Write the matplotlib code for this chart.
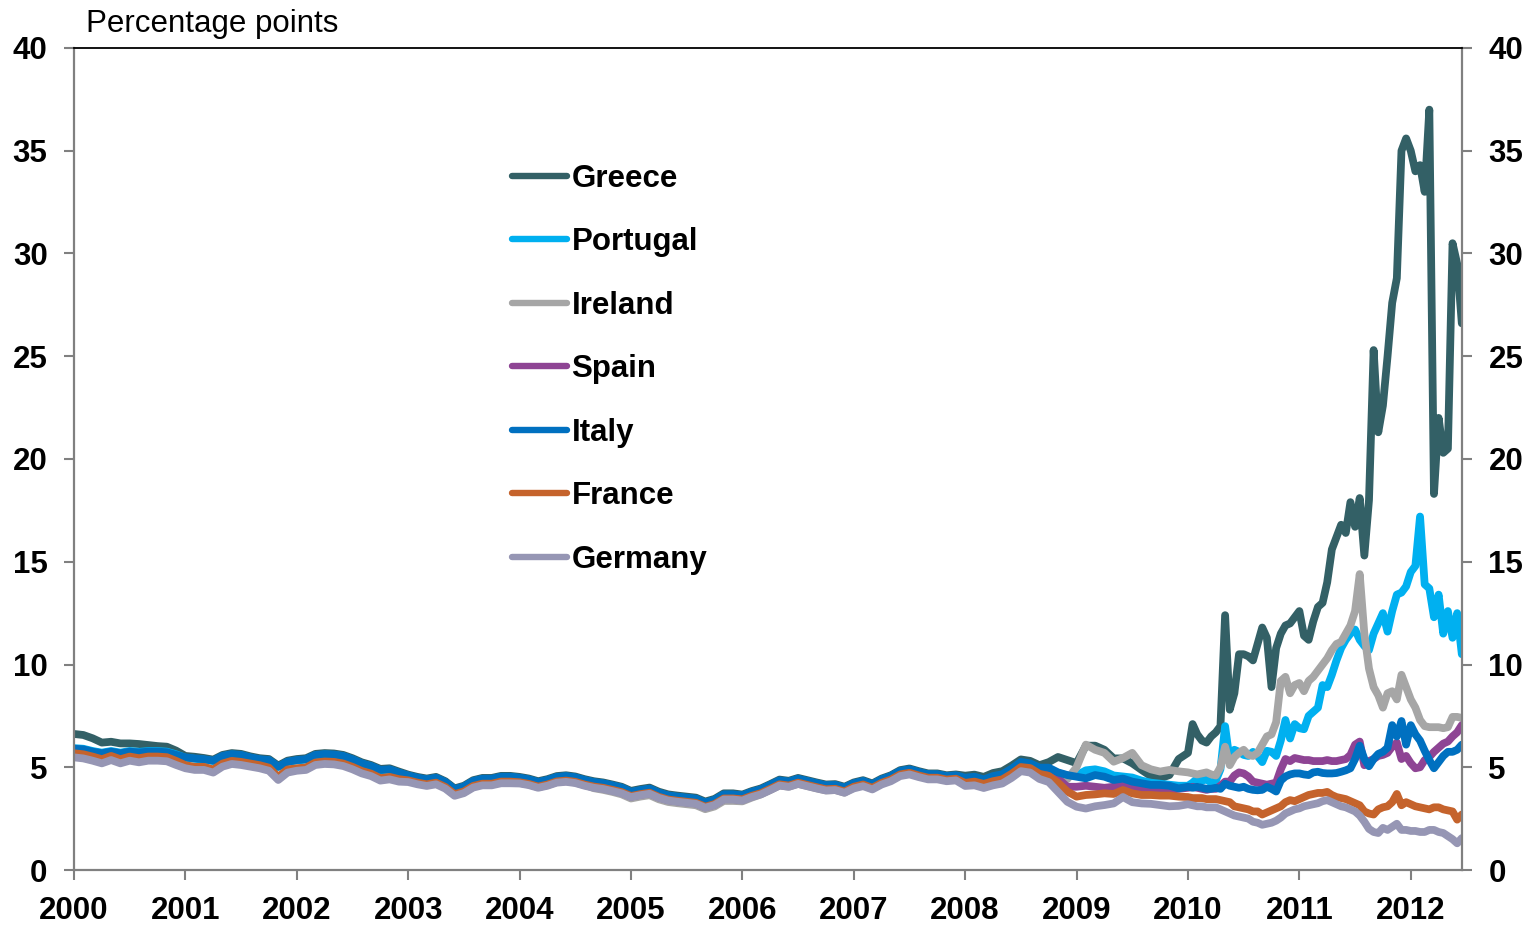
import matplotlib
matplotlib.use('Agg')
import matplotlib.pyplot as plt
import numpy as np

plt.rcParams['font.family'] = ['Liberation Sans', 'DejaVu Sans']
plt.rcParams['font.weight'] = 'bold'

# monthly readings Jan 2000 - Dec 2009, then twice a month Jan 2010 - Jun 2012
months = 2000 + np.arange(120) / 12
halves = 2010 + np.arange(60) / 24
dates = np.concatenate([months, halves])

greece_m = [
    6.62, 6.57, 6.41, 6.20, 6.24, 6.16, 6.16, 6.13, 6.08, 6.03, 6.00, 5.81,
    5.55, 5.51, 5.45, 5.37, 5.60, 5.69, 5.65, 5.53, 5.44, 5.40, 5.08, 5.32,
    5.40, 5.44, 5.65, 5.69, 5.67, 5.60, 5.44, 5.24, 5.11, 4.92, 4.95, 4.79,
    4.64, 4.53, 4.45, 4.53, 4.32, 3.97, 4.10, 4.37, 4.48, 4.48, 4.58, 4.58,
    4.53, 4.45, 4.32, 4.42, 4.57, 4.61, 4.55, 4.42, 4.32, 4.26, 4.16, 4.05,
    3.85, 3.94, 4.01, 3.81, 3.68, 3.62, 3.57, 3.52, 3.33, 3.46, 3.73, 3.73,
    3.67, 3.84, 3.97, 4.18, 4.40, 4.34, 4.48, 4.37, 4.26, 4.16, 4.18, 4.05,
    4.26, 4.37, 4.21, 4.45, 4.61, 4.86, 4.94, 4.81, 4.70, 4.70, 4.61, 4.65,
    4.59, 4.64, 4.53, 4.72, 4.81, 5.08, 5.38, 5.31, 5.10, 5.25, 5.50, 5.35,
    5.20, 6.05, 6.05, 5.85, 5.43, 5.43, 5.19, 4.87, 4.57, 4.46, 4.62, 5.40]
greece_h = [
    5.70, 7.10, 6.60, 6.30, 6.20, 6.50, 6.70, 7.00, 12.40, 7.80, 8.60, 10.50,
    10.50, 10.40, 10.20, 11.00, 11.80, 11.30, 8.90, 10.80, 11.50, 11.90, 12.00, 12.30,
    12.60, 11.40, 11.20, 12.10, 12.80, 13.00, 14.00, 15.60, 16.20, 16.80, 16.40, 17.90,
    16.70, 18.10, 15.30, 18.00, 25.30, 21.30, 22.60, 25.00, 27.60, 28.80, 35.00, 35.60,
    35.00, 34.00, 34.30, 33.00, 37.00, 18.30, 22.00, 20.30, 20.50, 30.50, 29.50, 26.60]

portugal_m = [
    5.93, 5.90, 5.79, 5.71, 5.79, 5.71, 5.79, 5.75, 5.79, 5.79, 5.76, 5.63,
    5.46, 5.41, 5.37, 5.30, 5.53, 5.62, 5.58, 5.46, 5.37, 5.33, 5.01, 5.25,
    5.33, 5.37, 5.58, 5.62, 5.60, 5.53, 5.37, 5.17, 5.04, 4.85, 4.88, 4.72,
    4.58, 4.47, 4.39, 4.47, 4.26, 3.91, 4.04, 4.31, 4.42, 4.42, 4.52, 4.52,
    4.47, 4.39, 4.26, 4.36, 4.51, 4.55, 4.49, 4.36, 4.26, 4.20, 4.10, 3.99,
    3.78, 3.87, 3.94, 3.74, 3.61, 3.55, 3.50, 3.45, 3.26, 3.39, 3.66, 3.66,
    3.61, 3.78, 3.91, 4.12, 4.34, 4.28, 4.42, 4.31, 4.20, 4.10, 4.12, 3.99,
    4.20, 4.31, 4.15, 4.39, 4.55, 4.80, 4.88, 4.75, 4.64, 4.64, 4.55, 4.59,
    4.44, 4.49, 4.36, 4.52, 4.61, 4.88, 5.21, 5.14, 4.93, 4.93, 4.72, 4.60,
    4.60, 4.85, 4.90, 4.80, 4.60, 4.55, 4.50, 4.35, 4.25, 4.20, 4.15, 4.10]
portugal_h = [
    4.10, 4.25, 4.45, 4.35, 4.40, 4.25, 4.35, 4.90, 7.00, 5.30, 5.85, 5.75,
    5.60, 5.55, 5.75, 5.55, 5.25, 5.80, 5.75, 5.55, 6.30, 7.30, 6.40, 7.10,
    6.90, 6.85, 7.50, 7.70, 7.90, 9.00, 8.90, 9.50, 10.20, 10.80, 11.20, 11.50,
    11.70, 11.20, 10.90, 10.70, 11.50, 12.00, 12.50, 11.60, 12.60, 13.40, 13.50, 13.80,
    14.50, 14.80, 17.20, 13.90, 13.70, 12.30, 13.40, 11.50, 12.60, 11.30, 12.50, 10.50]

ireland_m = [
    5.53, 5.48, 5.37, 5.24, 5.40, 5.24, 5.37, 5.29, 5.37, 5.37, 5.34, 5.16,
    5.00, 4.92, 4.92, 4.79, 5.08, 5.21, 5.16, 5.08, 5.00, 4.88, 4.43, 4.79,
    4.88, 4.92, 5.16, 5.21, 5.19, 5.11, 4.95, 4.75, 4.62, 4.40, 4.46, 4.35,
    4.33, 4.22, 4.14, 4.22, 4.01, 3.66, 3.79, 4.06, 4.17, 4.17, 4.27, 4.27,
    4.26, 4.18, 4.05, 4.15, 4.30, 4.34, 4.28, 4.15, 3.98, 3.90, 3.80, 3.68,
    3.48, 3.57, 3.64, 3.44, 3.31, 3.25, 3.20, 3.15, 2.96, 3.09, 3.36, 3.36,
    3.34, 3.52, 3.68, 3.89, 4.11, 4.05, 4.19, 4.08, 3.97, 3.87, 3.89, 3.76,
    4.02, 4.13, 3.97, 4.21, 4.37, 4.62, 4.70, 4.57, 4.46, 4.46, 4.37, 4.41,
    4.29, 4.37, 4.29, 4.42, 4.51, 4.78, 5.11, 5.09, 4.83, 4.78, 4.50, 4.42,
    5.00, 6.10, 5.85, 5.70, 5.27, 5.45, 5.70, 5.10, 4.90, 4.79, 4.87, 4.80]
ireland_h = [
    4.75, 4.70, 4.65, 4.70, 4.75, 4.65, 4.60, 5.00, 6.00, 5.10, 5.50, 5.70,
    5.85, 5.60, 5.55, 5.70, 6.10, 6.50, 6.60, 7.20, 9.20, 9.40, 8.60, 9.00,
    9.10, 8.70, 9.20, 9.40, 9.70, 10.00, 10.30, 10.70, 11.00, 11.10, 11.50, 11.90,
    12.60, 14.40, 11.50, 9.80, 8.90, 8.50, 7.90, 8.60, 8.70, 8.30, 9.50, 8.90,
    8.30, 7.90, 7.30, 7.00, 6.95, 6.95, 6.95, 6.90, 6.95, 7.45, 7.45, 7.40]

spain_m = [
    5.65, 5.60, 5.49, 5.36, 5.52, 5.36, 5.49, 5.41, 5.49, 5.49, 5.46, 5.28,
    5.07, 4.99, 4.99, 4.86, 5.15, 5.28, 5.23, 5.15, 5.07, 4.95, 4.50, 4.86,
    4.92, 4.96, 5.20, 5.25, 5.23, 5.15, 4.99, 4.79, 4.66, 4.44, 4.50, 4.39,
    4.33, 4.22, 4.14, 4.22, 4.01, 3.66, 3.79, 4.06, 4.17, 4.17, 4.27, 4.27,
    4.24, 4.16, 4.03, 4.13, 4.28, 4.32, 4.26, 4.13, 4.03, 3.97, 3.87, 3.76,
    3.57, 3.66, 3.73, 3.53, 3.40, 3.34, 3.29, 3.24, 3.05, 3.18, 3.45, 3.45,
    3.41, 3.58, 3.71, 3.92, 4.14, 4.08, 4.22, 4.11, 4.00, 3.90, 3.92, 3.79,
    4.02, 4.13, 3.97, 4.21, 4.37, 4.62, 4.70, 4.57, 4.46, 4.46, 4.37, 4.41,
    4.34, 4.40, 4.29, 4.42, 4.51, 4.78, 5.11, 5.06, 4.80, 4.72, 4.45, 4.05,
    4.05, 4.10, 4.05, 4.00, 4.05, 4.15, 4.00, 3.95, 3.90, 3.85, 3.90, 3.95]
spain_h = [
    4.00, 4.05, 4.00, 3.95, 3.90, 3.95, 3.95, 4.10, 4.30, 4.30, 4.60, 4.75,
    4.70, 4.55, 4.30, 4.25, 4.20, 4.15, 4.20, 4.25, 4.90, 5.40, 5.30, 5.45,
    5.40, 5.35, 5.35, 5.30, 5.30, 5.30, 5.35, 5.30, 5.30, 5.35, 5.40, 5.60,
    6.10, 6.25, 5.10, 5.30, 5.40, 5.55, 5.60, 5.70, 6.00, 6.20, 5.40, 5.55,
    5.20, 4.95, 5.00, 5.35, 5.50, 5.75, 5.95, 6.15, 6.25, 6.50, 6.70, 7.05]

italy_m = [
    5.90, 5.87, 5.76, 5.68, 5.76, 5.68, 5.76, 5.72, 5.76, 5.76, 5.73, 5.60,
    5.48, 5.43, 5.39, 5.32, 5.55, 5.64, 5.60, 5.48, 5.39, 5.35, 5.03, 5.27,
    5.35, 5.39, 5.60, 5.64, 5.62, 5.55, 5.39, 5.19, 5.06, 4.87, 4.90, 4.74,
    4.60, 4.49, 4.41, 4.49, 4.28, 3.93, 4.06, 4.33, 4.44, 4.44, 4.54, 4.54,
    4.49, 4.41, 4.28, 4.38, 4.53, 4.57, 4.51, 4.38, 4.28, 4.22, 4.12, 4.01,
    3.80, 3.89, 3.96, 3.76, 3.63, 3.57, 3.52, 3.47, 3.28, 3.41, 3.68, 3.68,
    3.63, 3.80, 3.93, 4.14, 4.36, 4.30, 4.44, 4.33, 4.22, 4.12, 4.14, 4.01,
    4.22, 4.33, 4.17, 4.41, 4.57, 4.82, 4.90, 4.77, 4.66, 4.66, 4.57, 4.61,
    4.49, 4.54, 4.41, 4.57, 4.66, 4.93, 5.26, 5.19, 4.98, 4.98, 4.75, 4.62,
    4.54, 4.46, 4.62, 4.54, 4.38, 4.45, 4.30, 4.22, 4.14, 4.14, 4.10, 3.97]
italy_h = [
    4.05, 4.00, 4.05, 4.00, 3.95, 3.95, 4.00, 3.95, 4.20, 4.10, 4.05, 4.00,
    4.05, 3.95, 3.90, 3.88, 3.90, 4.05, 3.95, 3.82, 4.35, 4.55, 4.65, 4.70,
    4.70, 4.65, 4.62, 4.75, 4.78, 4.72, 4.70, 4.70, 4.72, 4.78, 4.85, 4.95,
    5.40, 6.05, 5.40, 5.05, 5.40, 5.65, 5.75, 5.95, 7.05, 6.50, 7.25, 6.10,
    7.05, 6.60, 6.30, 5.80, 5.35, 4.95, 5.25, 5.55, 5.75, 5.75, 5.85, 6.10]

france_m = [
    5.68, 5.63, 5.52, 5.39, 5.55, 5.39, 5.52, 5.44, 5.52, 5.52, 5.49, 5.31,
    5.10, 5.02, 5.02, 4.89, 5.18, 5.31, 5.26, 5.18, 5.10, 4.98, 4.53, 4.89,
    4.95, 4.99, 5.23, 5.28, 5.26, 5.18, 5.02, 4.82, 4.69, 4.47, 4.53, 4.42,
    4.36, 4.25, 4.17, 4.25, 4.04, 3.69, 3.82, 4.09, 4.20, 4.20, 4.30, 4.30,
    4.27, 4.19, 4.06, 4.16, 4.31, 4.35, 4.29, 4.16, 4.06, 4.00, 3.90, 3.79,
    3.60, 3.69, 3.76, 3.56, 3.43, 3.37, 3.32, 3.27, 3.08, 3.21, 3.48, 3.48,
    3.44, 3.61, 3.74, 3.95, 4.17, 4.11, 4.25, 4.14, 4.03, 3.93, 3.95, 3.82,
    4.05, 4.16, 4.00, 4.24, 4.40, 4.65, 4.73, 4.60, 4.49, 4.49, 4.40, 4.44,
    4.24, 4.30, 4.19, 4.32, 4.41, 4.68, 5.01, 4.96, 4.68, 4.58, 4.25, 3.82,
    3.57, 3.65, 3.68, 3.73, 3.70, 3.89, 3.73, 3.65, 3.65, 3.62, 3.62, 3.57]
france_h = [
    3.55, 3.50, 3.50, 3.50, 3.45, 3.45, 3.45, 3.40, 3.35, 3.30, 3.10, 3.05,
    3.00, 2.95, 2.85, 2.85, 2.70, 2.80, 2.90, 3.00, 3.10, 3.30, 3.40, 3.35,
    3.45, 3.55, 3.65, 3.70, 3.75, 3.75, 3.80, 3.65, 3.55, 3.50, 3.45, 3.35,
    3.25, 3.15, 2.85, 2.75, 2.70, 2.95, 3.05, 3.10, 3.30, 3.70, 3.15, 3.30,
    3.20, 3.10, 3.05, 3.00, 2.95, 3.05, 3.05, 2.95, 2.90, 2.85, 2.45, 2.70]

germany_m = [
    5.48, 5.43, 5.32, 5.19, 5.35, 5.19, 5.32, 5.24, 5.32, 5.32, 5.29, 5.11,
    4.95, 4.87, 4.87, 4.74, 5.03, 5.16, 5.11, 5.03, 4.95, 4.83, 4.38, 4.74,
    4.83, 4.87, 5.11, 5.16, 5.14, 5.06, 4.90, 4.70, 4.57, 4.35, 4.41, 4.30,
    4.28, 4.17, 4.09, 4.17, 3.96, 3.61, 3.74, 4.01, 4.12, 4.12, 4.22, 4.22,
    4.21, 4.13, 4.00, 4.10, 4.25, 4.29, 4.23, 4.10, 4.00, 3.94, 3.84, 3.73,
    3.55, 3.64, 3.71, 3.51, 3.38, 3.32, 3.27, 3.22, 3.03, 3.16, 3.43, 3.43,
    3.38, 3.55, 3.68, 3.89, 4.11, 4.05, 4.19, 4.08, 3.97, 3.87, 3.89, 3.76,
    3.97, 4.08, 3.92, 4.16, 4.32, 4.57, 4.65, 4.52, 4.41, 4.41, 4.32, 4.36,
    4.09, 4.12, 3.99, 4.12, 4.21, 4.48, 4.81, 4.74, 4.43, 4.28, 3.80, 3.32,
    3.08, 2.99, 3.10, 3.16, 3.24, 3.55, 3.30, 3.24, 3.22, 3.16, 3.10, 3.12]
germany_h = [
    3.20, 3.15, 3.10, 3.10, 3.05, 3.05, 3.05, 2.95, 2.85, 2.75, 2.65, 2.60,
    2.55, 2.50, 2.35, 2.30, 2.20, 2.25, 2.30, 2.40, 2.55, 2.75, 2.85, 2.95,
    3.00, 3.10, 3.15, 3.20, 3.25, 3.35, 3.40, 3.30, 3.20, 3.10, 3.05, 2.95,
    2.85, 2.65, 2.35, 2.00, 1.85, 1.80, 2.05, 1.95, 2.10, 2.25, 1.95, 1.95,
    1.90, 1.90, 1.85, 1.85, 1.95, 1.95, 1.85, 1.80, 1.65, 1.50, 1.30, 1.55]

countries = ['Greece', 'Portugal', 'Ireland', 'Spain', 'Italy', 'France', 'Germany']
colors = ['#336066', '#00B0F0', '#A6A6A6', '#8E4494', '#0070C0', '#C5632C', '#9696B4']
series = [greece_m + greece_h, portugal_m + portugal_h, ireland_m + ireland_h,
          spain_m + spain_h, italy_m + italy_h, france_m + france_h,
          germany_m + germany_h]

fig = plt.figure(figsize=(15.29, 9.25), dpi=100)
ax = fig.add_axes([74 / 1529, 55 / 925, 1388 / 1529, 822 / 925])

for name, col, vals in zip(countries, colors, series):
    ax.plot(dates, vals, color=col, lw=5.6, label=name,
            solid_joinstyle='round', solid_capstyle='round')

ax.set_xlim(2000, 2012.46)
ax.set_ylim(0, 40)
ax.set_xticks(range(2000, 2013))
ax.set_yticks(range(0, 41, 5))
ax.tick_params(axis='both', direction='out', length=7, width=1.5,
               color='#808080', labelsize=22.5, pad=12)
ax.tick_params(axis='y', left=True, right=True, labelleft=True, labelright=True)

for side in ['left', 'right', 'bottom']:
    ax.spines[side].set_color('#808080')
    ax.spines[side].set_linewidth(1.6)
ax.spines['top'].set_color('black')
ax.spines['top'].set_linewidth(1.3)

leg = ax.legend(loc='upper left', bbox_to_anchor=(0.3156, 0.859), frameon=False,
                fontsize=22.5, handlelength=1.75, handletextpad=0.15,
                labelspacing=1.07, borderaxespad=0, borderpad=0)
for line in leg.get_lines():
    line.set_linewidth(4.6)

fig.text(86 / 1529, 1 - 24 / 925, 'Percentage points', fontsize=22.5,
         fontweight='normal', ha='left', va='center')

fig.savefig('out.png', dpi=100)
